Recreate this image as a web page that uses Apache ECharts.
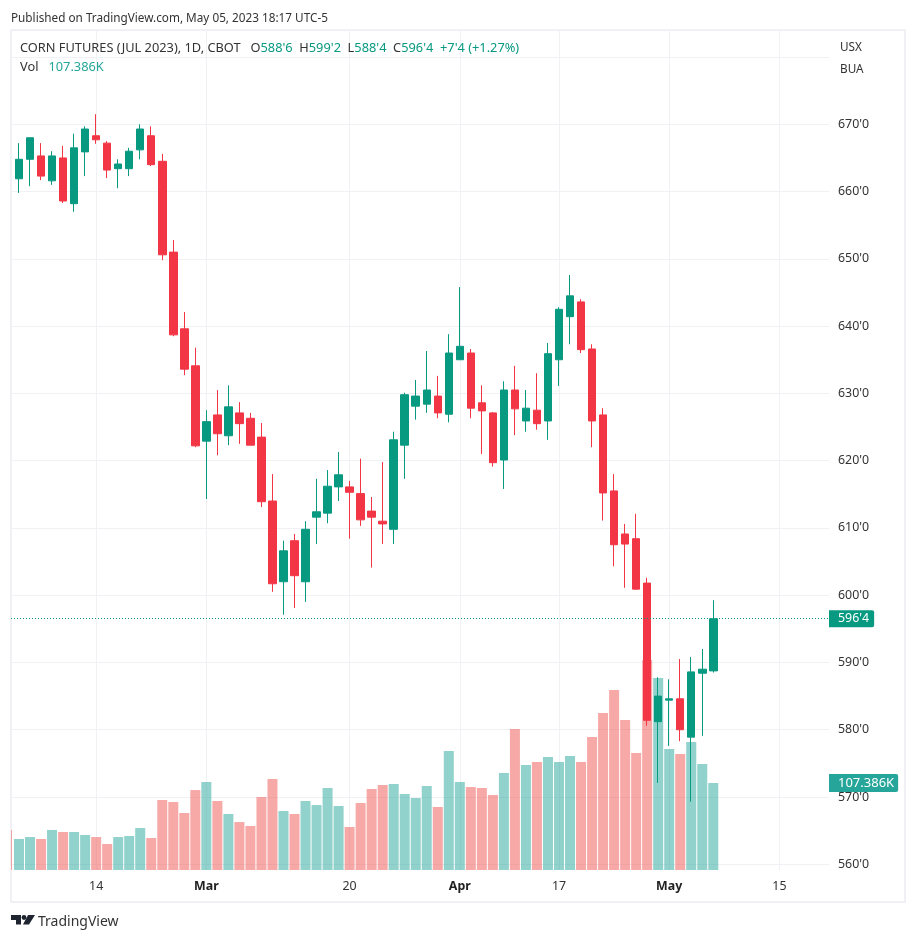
<!DOCTYPE html>
<html>
<head>
<meta charset="utf-8">
<title>CORN FUTURES</title>
<style>
  html, body { margin: 0; padding: 0; background: #fff; }
  #main { width: 916px; height: 941px; }
</style>
<script src="https://cdn.jsdelivr.net/npm/echarts@6/dist/echarts.min.js"></script>
</head>
<body>
<div id="main"></div>
<script>
var FONT = '"Noto Sans", "Open Sans", sans-serif';
var UP = '#089981', DOWN = '#F23645';
var VOL_UP = 'rgba(38,166,154,0.5)', VOL_DOWN = 'rgba(239,83,80,0.5)';

// one row per session from Feb 3 to May 5: open, high, low, close, volume (K)
var rows = [
  [661.9, 667.2, 659.8, 664.8, 38.3], [664.8, 668.0, 660.8, 668.0, 40.7],
  [665.3, 667.2, 661.7, 662.3, 38.3], [661.6, 666.0, 661.0, 665.3, 49.4],
  [665.0, 666.8, 658.3, 658.6, 46.9], [658.2, 668.6, 657.0, 666.5, 46.9],
  [665.9, 669.7, 662.3, 669.3, 43.2], [668.3, 671.5, 667.1, 667.7, 40.7],
  [667.2, 667.5, 662.0, 663.2, 32.1], [663.4, 664.8, 660.5, 664.1, 40.7],
  [663.4, 666.5, 662.3, 666.0, 42.0], [666.2, 670.0, 664.8, 669.3, 51.8],
  [668.3, 669.7, 663.8, 664.0, 39.5], [664.5, 665.6, 649.8, 650.6, 86.4],
  [651.0, 652.8, 638.5, 638.7, 83.9], [639.6, 642.1, 632.7, 633.6, 70.4],
  [634.1, 636.8, 622.0, 622.2, 98.7], [622.9, 627.5, 614.3, 625.8, 108.6],
  [626.8, 630.5, 620.8, 624.0, 85.2], [623.7, 631.2, 622.3, 628.0, 69.1],
  [627.1, 628.7, 622.5, 625.5, 59.2], [626.3, 627.1, 622.3, 622.3, 54.3],
  [623.5, 625.6, 613.1, 613.9, 90.1], [614.0, 618.0, 600.5, 601.7, 112.3],
  [602.0, 608.1, 597.1, 606.6, 72.8], [608.1, 609.1, 598.1, 602.9, 69.1],
  [602.0, 611.0, 599.0, 609.8, 85.2], [611.6, 617.3, 607.6, 612.4, 80.2],
  [612.2, 618.6, 610.7, 616.2, 101.2], [616.1, 621.3, 614.0, 617.9, 79.0],
  [616.1, 617.0, 608.4, 615.3, 53.1], [615.1, 620.3, 610.3, 611.2, 82.7],
  [612.5, 614.6, 604.1, 611.6, 100.0], [611.0, 619.8, 607.6, 610.6, 104.9],
  [609.8, 624.3, 607.6, 623.1, 106.1], [622.3, 630.1, 617.3, 629.8, 93.8],
  [628.1, 632.0, 626.1, 629.6, 88.9], [628.4, 636.3, 627.1, 630.5, 103.7],
  [629.6, 632.6, 626.3, 627.1, 77.8], [626.9, 638.8, 625.7, 636.0, 146.9],
  [635.0, 645.8, 635.0, 637.0, 108.6], [636.0, 636.6, 626.3, 627.8, 102.4],
  [628.6, 631.2, 621.0, 627.4, 101.2], [627.1, 627.2, 619.1, 619.7, 92.6],
  [620.1, 631.8, 615.8, 630.5, 119.7], [630.5, 634.1, 623.8, 627.7, 174.0],
  [625.9, 630.5, 624.3, 627.8, 129.6], [627.5, 633.0, 624.6, 625.5, 133.3],
  [625.9, 637.5, 623.1, 635.9, 139.5], [635.0, 642.8, 631.1, 642.5, 133.3],
  [641.4, 647.6, 637.3, 644.5, 140.7], [643.6, 644.0, 636.0, 636.5, 133.3],
  [636.6, 637.3, 622.0, 625.9, 164.1], [626.8, 627.8, 611.1, 615.2, 193.8],
  [615.5, 618.0, 604.3, 607.5, 222.2], [609.1, 610.6, 601.1, 607.6, 185.1],
  [608.4, 612.1, 600.8, 600.9, 144.4], [601.8, 602.6, 580.6, 581.4, 259.2],
  [581.2, 587.8, 572.1, 585.0, 237.0], [584.4, 587.5, 577.6, 584.6, 149.3],
  [584.6, 590.5, 578.3, 580.0, 143.2], [578.9, 590.8, 569.3, 588.6, 158.0],
  [588.4, 592.0, 579.1, 589.0, 130.8], [588.75, 599.25, 588.5, 596.5, 107.386]
];
// session just before the first row, only a sliver of its volume bar shows
var prevVolume = 49.4;

var candles = rows.map(function (r, i) { return [i, r[0], r[3], r[2], r[1]]; });
var volumes = rows.map(function (r, i) {
  return { value: [i, r[4]], itemStyle: { color: r[3] >= r[0] ? VOL_UP : VOL_DOWN } };
});

var timeTicks = { 7: '14', 17: 'Mar', 30: '20', 40: 'Apr', 49: '17', 59: 'May', 69: '15' };
var tickValues = Object.keys(timeTicks).map(Number);
var priceTicks = [560, 570, 580, 590, 600, 610, 620, 630, 640, 650, 660, 670, 680];

function eighths(p) {
  var whole = Math.floor(p);
  return whole + "'" + Math.round((p - whole) * 8);
}

var plain = { color: '#333', fontFamily: FONT, fontSize: 11.75, fontWeight: 'normal' };
var head = { color: '#333', fontFamily: FONT, fontSize: 12.8, fontWeight: 'normal' };
var val = { color: UP, fontFamily: FONT, fontSize: 12.8, fontWeight: 'normal' };

var myChart = echarts.init(document.getElementById('main'), null, { renderer: 'canvas' });
myChart.setOption({
  animation: false,
  backgroundColor: '#fff',
  title: [
    { text: 'Published on TradingView.com, May 05, 2023 18:17 UTC-5', left: 11, top: 13, padding: 0, textStyle: plain },
    {
      text: "{d|CORN FUTURES (JUL 2023), 1D, CBOT   O}{v|588'6}{d|  H}{v|599'2}{d|  L}{v|588'4}{d|  C}{v|596'4}{v|  +7'4 (+1.27%)}",
      left: 20, top: 42, padding: 0,
      textStyle: { rich: { d: head, v: val } }
    },
    {
      text: '{d|Vol   }{v|107.386K}', left: 20, top: 61, padding: 0,
      textStyle: { rich: { d: head, v: { color: '#26a69a', fontFamily: FONT, fontSize: 12.8, fontWeight: 'normal' } } }
    },
    { text: 'USX', left: 840, top: 42, padding: 0, textStyle: plain },
    { text: 'BUA', left: 840, top: 64, padding: 0, textStyle: plain },
    { text: 'TradingView', left: 38, top: 915, padding: 0, textStyle: { color: '#333', fontFamily: FONT, fontSize: 14, fontWeight: 'normal' } }
  ],
  graphic: [
    { type: 'rect', z: 0, shape: { x: 11, y: 30, width: 894, height: 872 }, style: { fill: 'none', stroke: '#f0f0f5', lineWidth: 2 } },
    // TradingView logo mark
    { type: 'polygon', shape: { points: [[11, 915], [21, 915], [21, 924.5], [16, 924.5], [16, 920], [11, 920]] }, style: { fill: '#1f2530' } },
    { type: 'circle', shape: { cx: 24, cy: 917.5, r: 2.4 }, style: { fill: '#1f2530' } },
    { type: 'polygon', shape: { points: [[28, 915], [35, 915], [29, 924.5], [23, 924.5]] }, style: { fill: '#1f2530' } }
  ],
  grid: { left: 11, right: 87, top: 31, bottom: 71 },
  xAxis: {
    type: 'value',
    // one unit is one session, about 11px wide
    min: -0.726,
    max: 73.5,
    axisLine: { show: false },
    axisTick: { show: false, customValues: tickValues },
    splitLine: { show: true, lineStyle: { color: '#f0f1f4', width: 1 } },
    axisLabel: {
      customValues: tickValues,
      margin: 10,
      color: '#333',
      fontFamily: FONT,
      fontSize: 12.4,
      formatter: function (v) {
        var t = timeTicks[v];
        return /[a-z]/.test(t) ? '{m|' + t + '}' : t;
      },
      rich: { m: { color: '#222', fontFamily: FONT, fontSize: 12.4, fontWeight: 'bold' } }
    }
  },
  yAxis: [
    {
      type: 'value',
      position: 'right',
      min: 559.15,
      max: 683.87,
      axisLine: { show: false },
      axisTick: { show: false, customValues: priceTicks },
      splitLine: { show: true, lineStyle: { color: '#f0f1f4', width: 1 } },
      axisLabel: {
        customValues: priceTicks,
        margin: 9,
        color: '#333',
        fontFamily: FONT,
        fontSize: 12.4,
        formatter: function (v) { return v === 680 ? '' : eighths(v); }
      }
    },
    {
      // volume pane shares the grid, its bars only reach the lower third
      type: 'value',
      min: 0,
      max: 1035.7,
      show: false
    }
  ],
  series: [
    {
      name: 'Vol',
      type: 'bar',
      yAxisIndex: 1,
      barWidth: 10,
      z: 2,
      encode: { x: 0, y: 1 },
      data: volumes,
      markArea: {
        silent: true,
        itemStyle: { color: VOL_DOWN },
        data: [[{ xAxis: -0.726, yAxis: 0 }, { xAxis: -0.635, yAxis: prevVolume }]]
      },
      markLine: {
        silent: true,
        symbol: 'none',
        lineStyle: { color: 'rgba(0,0,0,0)', width: 0 },
        label: {
          position: 'end', distance: 0, formatter: '107.386K',
          backgroundColor: '#26a69a', color: '#fff', fontFamily: FONT, fontSize: 13,
          padding: [3, 4, 2, 9], borderRadius: [0, 2, 2, 0]
        },
        data: [{ yAxis: 107.386 }]
      }
    },
    {
      name: 'CORN',
      type: 'candlestick',
      yAxisIndex: 0,
      barWidth: 8,
      z: 3,
      encode: { x: 0, y: [1, 2, 3, 4] },
      itemStyle: { color: UP, color0: DOWN, borderColor: UP, borderColor0: DOWN, borderWidth: 1 },
      data: candles,
      markLine: {
        silent: true,
        symbol: 'none',
        lineStyle: { color: UP, type: [1, 2], width: 1 },
        label: {
          position: 'end', distance: 0, formatter: "596'4",
          backgroundColor: UP, color: '#fff', fontFamily: FONT, fontSize: 12.4,
          padding: [3, 5, 2, 9], borderRadius: [0, 2, 2, 0]
        },
        data: [{ yAxis: 596.5 }]
      }
    }
  ]
});
</script>
</body>
</html>
